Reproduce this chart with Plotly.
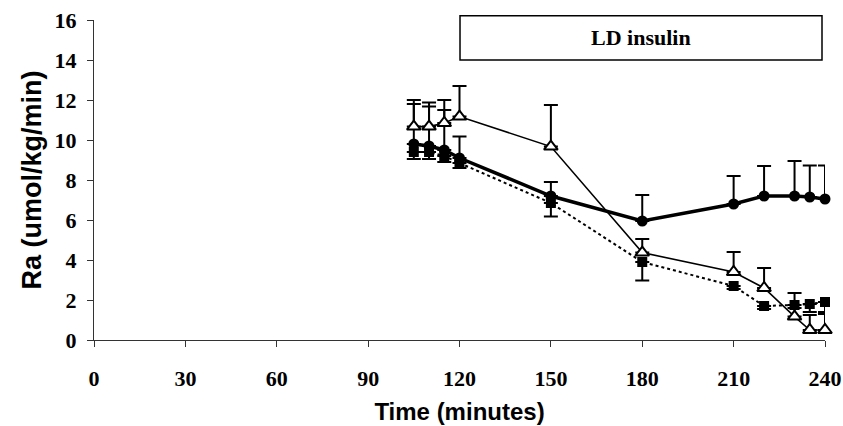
import plotly.graph_objects as go

time = [105, 110, 115, 120, 150, 180, 210, 220, 230, 235, 240]

circle_vals = [9.8, 9.7, 9.5, 9.1, 7.2, 5.95, 6.8, 7.2, 7.2, 7.15, 7.05]
circle_upper = [12.0, 11.87, 11.5, 10.17, 7.9, 7.25, 8.2, 8.7, 8.95, 8.72, 8.72]

triangle_vals = [10.67, 10.67, 10.85, 11.17, 9.67, 4.37, 3.4, 2.6, 1.17, 0.5, 0.5]
triangle_upper = [11.8, 11.67, 12.0, 12.7, 11.75, 5.05, 4.4, 3.6, 2.35, 1.25, 1.3]

square_vals = [9.4, 9.4, 9.2, 8.85, 6.85, 3.9, 2.7, 1.7, 1.75, 1.8, 1.9]
square_lower = [9.05, 9.05, 8.9, 8.6, 6.17, 2.97, 2.55, 1.55, 1.6, 1.4, 1.4]

x_ticks = [0, 30, 60, 90, 120, 150, 180, 210, 240]
y_ticks = [0, 2, 4, 6, 8, 10, 12, 14, 16]

box_label = "LD insulin"
x_title = "Time (minutes)"
y_title = "Ra (umol/kg/min)"

def up(vals, tops):
    return [t - v for v, t in zip(vals, tops)]

def down(vals, lows):
    return [v - l for v, l in zip(vals, lows)]

zeros = [0] * len(time)

fig = go.Figure()

# dotted squares
fig.add_trace(go.Scatter(
    x=time, y=square_vals, mode="lines+markers",
    line=dict(color="black", width=2, dash="dot"),
    marker=dict(symbol="square", size=10, color="black"),
    error_y=dict(type="data", symmetric=False, array=zeros, arrayminus=down(square_vals, square_lower),
                 color="black", thickness=2, width=7),
    cliponaxis=False, showlegend=False,
))

# thick circles
fig.add_trace(go.Scatter(
    x=time, y=circle_vals, mode="lines+markers",
    line=dict(color="black", width=3.5),
    marker=dict(symbol="circle", size=11, color="black"),
    error_y=dict(type="data", symmetric=False, array=up(circle_vals, circle_upper), arrayminus=zeros,
                 color="black", thickness=2, width=7),
    cliponaxis=False, showlegend=False,
))

# thin open triangles
fig.add_trace(go.Scatter(
    x=time, y=triangle_vals, mode="lines+markers",
    line=dict(color="black", width=1.6),
    marker=dict(symbol="triangle-up", size=12, color="white", line=dict(color="black", width=2)),
    error_y=dict(type="data", symmetric=False, array=up(triangle_vals, triangle_upper), arrayminus=zeros,
                 color="black", thickness=2, width=7),
    cliponaxis=False, showlegend=False,
))

fig.add_shape(type="rect", xref="paper", yref="paper",
              x0=0.5007, x1=0.9959, y0=0.875, y1=1.013,
              line=dict(color="black", width=1.5), fillcolor="rgba(0,0,0,0)")
fig.add_annotation(xref="paper", yref="paper", x=0.748, y=0.944, text="<b>%s</b>" % box_label,
                   showarrow=False, font=dict(family="Liberation Serif", size=22, color="black"),
                   xanchor="center", yanchor="middle")

fig.update_layout(
    width=843, height=426,
    margin=dict(l=94, r=18, t=20, b=86, autoexpand=False),
    paper_bgcolor="white", plot_bgcolor="white",
    font=dict(family="Liberation Serif", color="black"),
)
fig.update_xaxes(
    range=[0, 240], tickvals=x_ticks, ticktext=["<b>%d</b>" % v for v in x_ticks],
    showgrid=False, zeroline=False, showline=True, linecolor="#333", linewidth=1,
    ticks="outside", ticklen=6, tickcolor="#333", automargin=False,
    tickfont=dict(family="Liberation Serif", size=22, color="black"),
    ticklabelstandoff=13, ticklabeloverflow="allow",
    title=dict(text="<b>%s</b>" % x_title, font=dict(family="Liberation Sans", size=24, color="black"), standoff=12),
)
fig.update_yaxes(
    range=[0, 16], tickvals=y_ticks, ticktext=["<b>%d</b>" % v for v in y_ticks],
    showgrid=False, zeroline=False, showline=True, linecolor="#333", linewidth=1,
    ticks="outside", ticklen=6, tickcolor="#333", automargin=False,
    tickfont=dict(family="Liberation Serif", size=22, color="black"),
    ticklabelstandoff=6, ticklabeloverflow="allow",
    title=dict(text="<b>%s</b>" % y_title, font=dict(family="Liberation Sans", size=27, color="black"), standoff=5),
)

fig.write_html(
    "out.html",
    config={"displayModeBar": False},
    post_script="document.body.style.margin='0';document.body.style.overflow='hidden';",
)
